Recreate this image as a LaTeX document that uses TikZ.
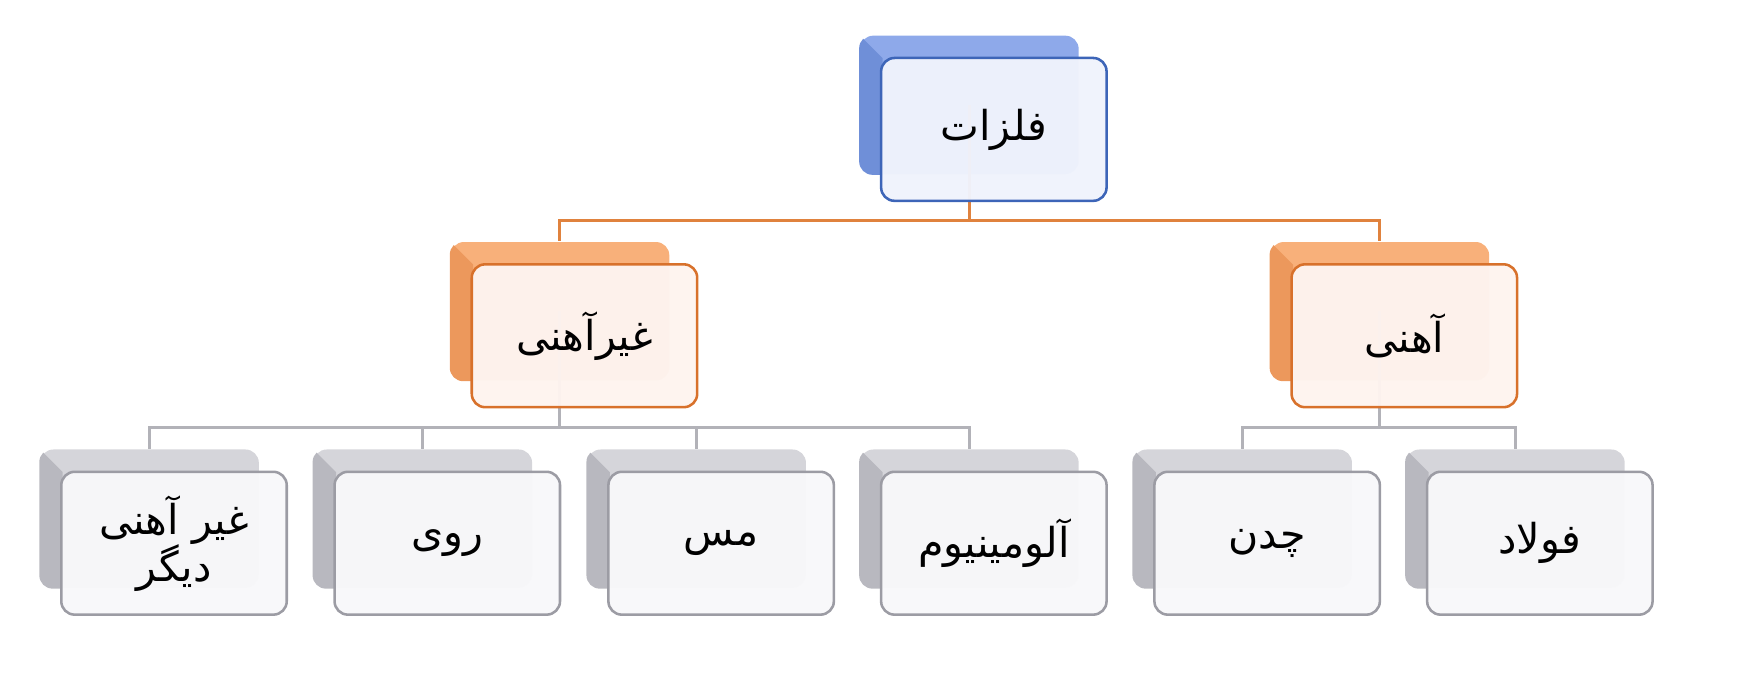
\documentclass[tikz,border=0pt]{standalone}
\usepackage{fontspec}
\TeXXeTstate=1
\newfontfamily\arabicfont[Script=Arabic]{DejaVu Sans}
\definecolor{bluetop}{HTML}{8EA9EA}
\definecolor{blueleft}{HTML}{6F8FD8}
\definecolor{bluefront}{HTML}{F0F3FC}
\definecolor{blueborder}{HTML}{3D65B8}
\definecolor{orangetop}{HTML}{F8B07A}
\definecolor{orangeleft}{HTML}{EC985C}
\definecolor{orangefront}{HTML}{FEF4EF}
\definecolor{orangeborder}{HTML}{D8712B}
\definecolor{orangeconn}{HTML}{E0823E}
\definecolor{greytop}{HTML}{D5D5DA}
\definecolor{greyleft}{HTML}{B8B8BF}
\definecolor{greyfront}{HTML}{F8F8FA}
\definecolor{greyborder}{HTML}{9C9CA4}
\definecolor{greyconn}{HTML}{B2B2B8}
\tikzset{
  backbox/.style={rectangle, rounded corners=0.12cm, minimum width=1.96cm, minimum height=1.24cm, inner sep=0pt, fill=#1top},
  frontbox/.style={rectangle, rounded corners=0.12cm, minimum width=2.02cm, minimum height=1.28cm, inner sep=0pt,
     draw=#1border, line width=0.65pt, fill=#1front, fill opacity=0.97, text opacity=1, align=center,
     font=\arabicfont\fontsize{10.5}{12}\selectfont},
  conn/.style={draw=#1, line width=0.75pt},
}
\newcommand\bevel[2]{% back node name, colour
  \begin{scope}
    \clip[rounded corners=0.12cm] (#1.south west) rectangle (#1.north east);
    \fill[#2] (#1.north west) -- ++(21,21) -- ($(#1.south west)+(21,0)$) -- (#1.south west) -- cycle;
  \end{scope}}
\usetikzlibrary{calc}
\begin{document}
\begin{tikzpicture}[x=0.01cm,y=-0.01cm]
\useasboundingbox (0,0) rectangle (1568,605);
% back boxes
\node[backbox=blue] (topb) at (869,94) {};
\node[backbox=orange] (nfb) at (502,279) {};
\node[backbox=orange] (feb) at (1237,279) {};
\node[backbox=grey] (ob) at (134,465) {};
\node[backbox=grey] (znb) at (379,465) {};
\node[backbox=grey] (cub) at (624.5,465) {};
\node[backbox=grey] (alb) at (869,465) {};
\node[backbox=grey] (cib) at (1114,465) {};
\node[backbox=grey] (stb) at (1358.5,465) {};
\bevel{topb}{blueleft}
\bevel{nfb}{orangeleft}
\bevel{feb}{orangeleft}
\bevel{ob}{greyleft}
\bevel{znb}{greyleft}
\bevel{cub}{greyleft}
\bevel{alb}{greyleft}
\bevel{cib}{greyleft}
\bevel{stb}{greyleft}
% connector anchors
\coordinate (j1) at (869,198);
\coordinate (j2) at (502,383);
\coordinate (j3) at (1237,383);
% connectors
\draw[conn=orangeconn] (topb.center) -- (j1) -| (nfb.north);
\draw[conn=orangeconn] (j1) -| (feb.north);
\draw[conn=greyconn] (nfb.center) -- (j2) -| (ob.north);
\draw[conn=greyconn] (j2) -| (znb.north);
\draw[conn=greyconn] (j2) -| (cub.north);
\draw[conn=greyconn] (j2) -| (alb.north);
\draw[conn=greyconn] (feb.center) -- (j3) -| (cib.north);
\draw[conn=greyconn] (j3) -| (stb.north);
% front boxes
\node[frontbox=blue] (top) at (891,116) {\beginR فلزات\endR};
\node[frontbox=orange] (nf) at (524,301) {\beginR غیرآهنی\endR};
\node[frontbox=orange] (fe) at (1259,301) {\beginR آهنی\endR};
\node[frontbox=grey] (o) at (156,487) {\beginR غیر آهنی\endR\\\beginR دیگر\endR};
\node[frontbox=grey] (zn) at (401,487) {\beginR روی\endR};
\node[frontbox=grey] (cu) at (646.5,487) {\beginR مس\endR};
\node[frontbox=grey] (al) at (891,487) {\beginR آلومینیوم\endR};
\node[frontbox=grey] (ci) at (1136,487) {\beginR چدن\endR};
\node[frontbox=grey] (st) at (1380.5,487) {\beginR فولاد\endR};
\end{tikzpicture}
\end{document}
